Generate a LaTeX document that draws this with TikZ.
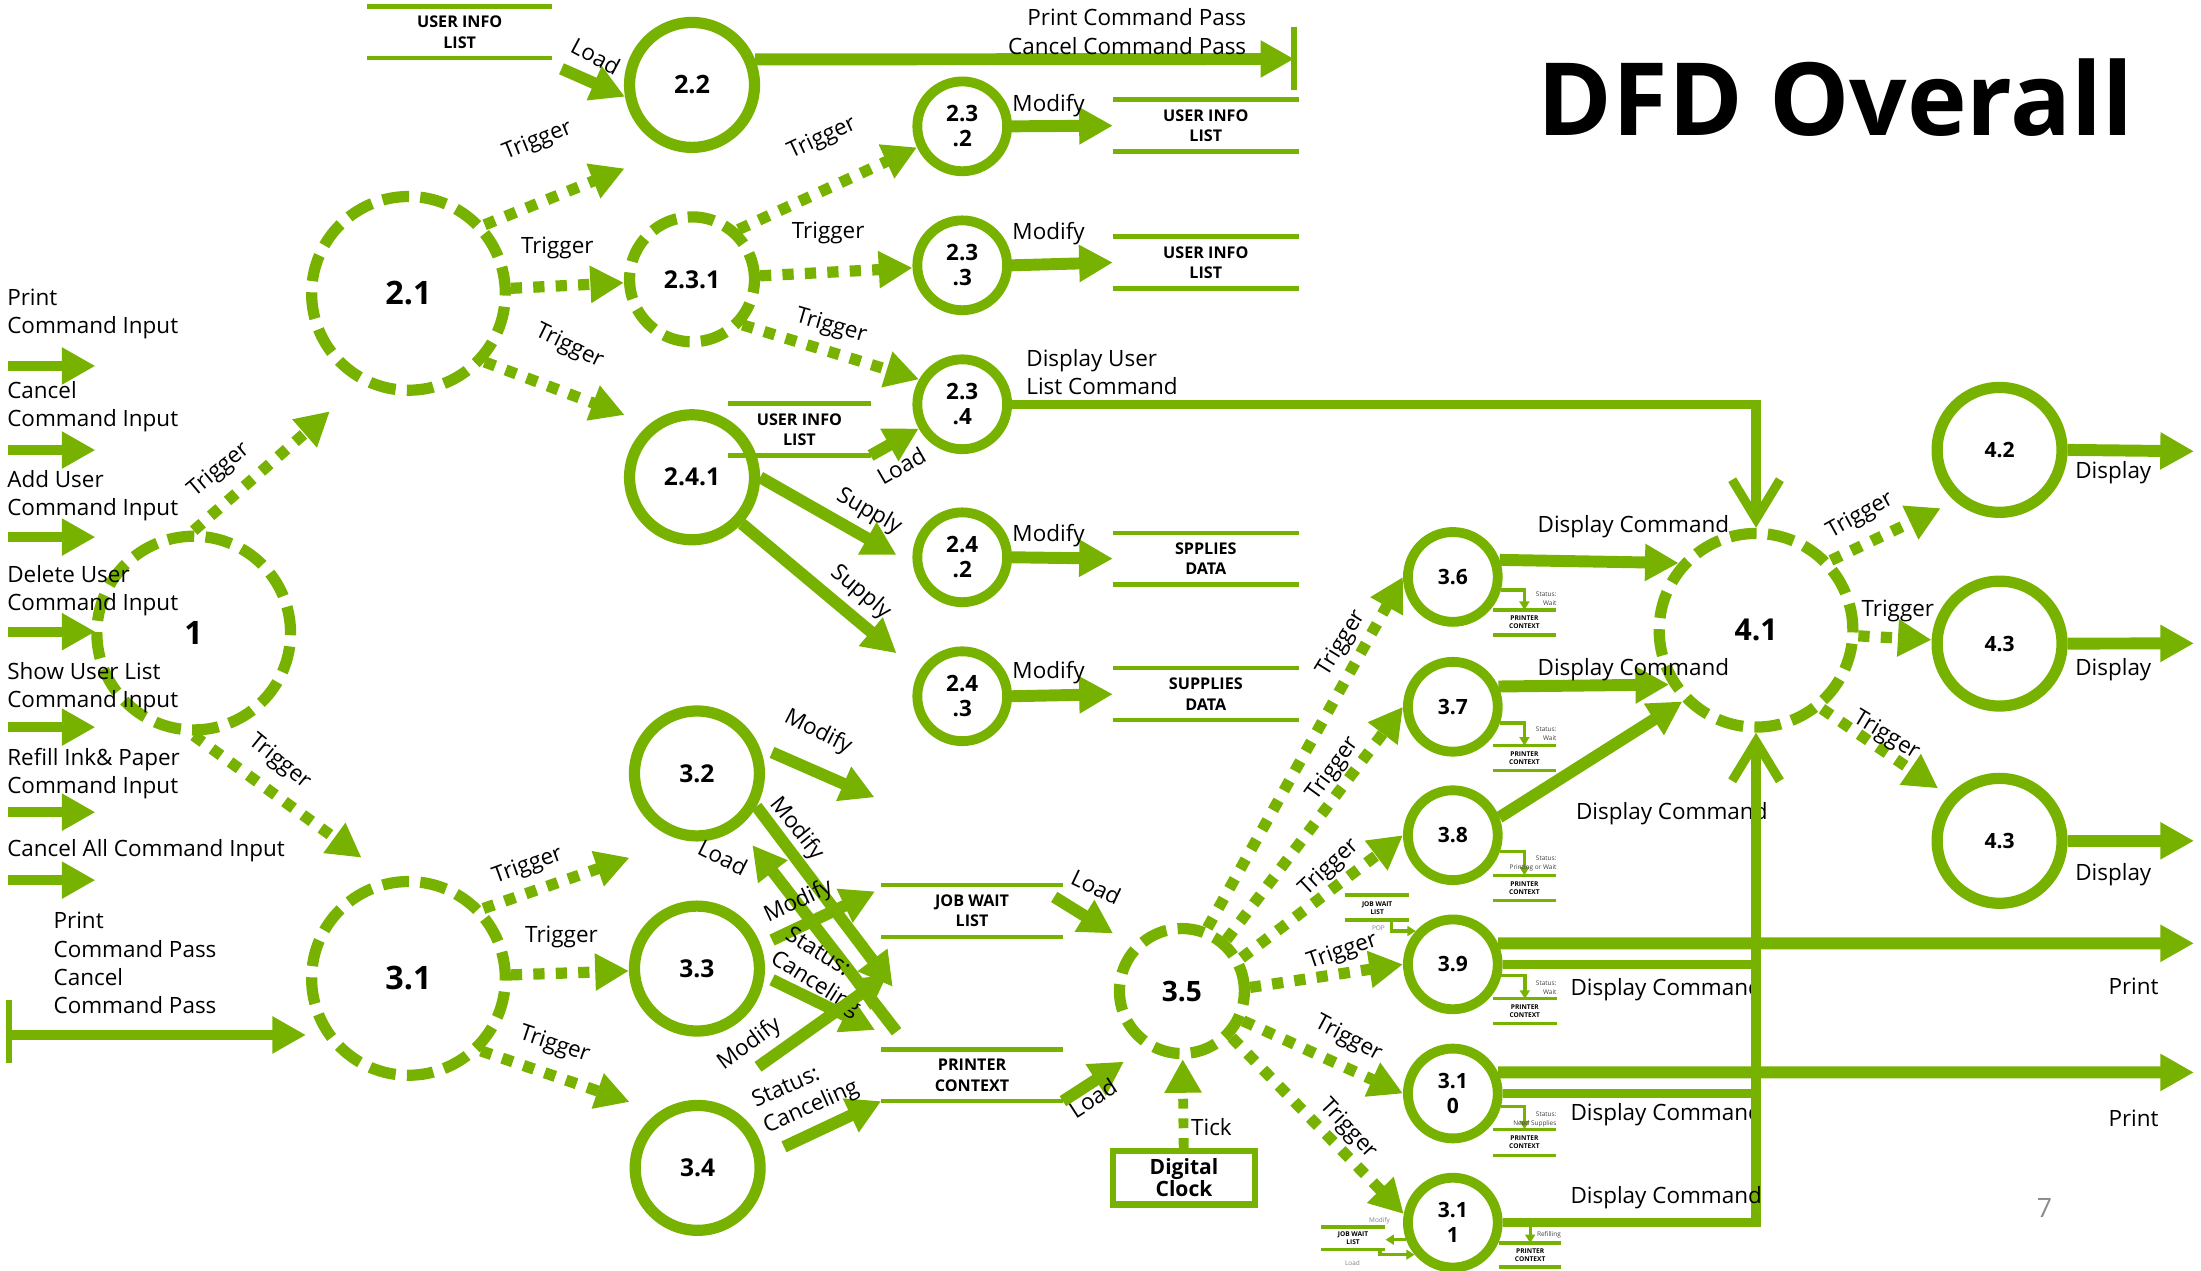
\documentclass[tikz,border=0pt]{standalone}
\usepackage{fontspec}
\setmainfont{Open Sans}
\usetikzlibrary{arrows.meta}
\definecolor{dfdgreen}{RGB}{120,178,0}

\begin{document}
\begin{tikzpicture}
        [x=1pt, y=-1pt,
         proc/.style={circle, draw=dfdgreen, line width=8pt, inner sep=0pt, align=center, text=black},
         bigproc/.style={proc, minimum size=138pt, font=\fontsize{23}{26}\selectfont\bfseries},
         midproc/.style={proc, minimum size=89pt, font=\fontsize{17.5}{20}\selectfont\bfseries},
         smallproc/.style={proc, line width=7pt, minimum size=64pt, font=\fontsize{16}{18}\selectfont\bfseries},
         dashproc/.style={dash pattern=on 19pt off 8pt},
         flow/.style={draw=dfdgreen, line width=8.5pt, -{Triangle[length=24pt,width=25pt]}},
         trig/.style={flow, line width=8pt, dash pattern=on 8pt off 8pt},
         inflow/.style={flow, line width=7pt},
         dispflow/.style={draw=dfdgreen, line width=6.5pt, -{Straight Barb[length=28pt,width=34pt]}},
         displine/.style={draw=dfdgreen, line width=6.5pt},
         bar/.style={draw=dfdgreen, line width=4.5pt},
         store/.style={inner sep=0pt, minimum height=36.5pt, align=center, font=\fontsize{11.5}{14.5}\selectfont\bfseries},
         storeline/.style={draw=dfdgreen, line width=3.2pt},
         lbl/.style={inner sep=0pt, font=\fontsize{16}{20}\selectfont},
         inlbl/.style={lbl, anchor=west, align=left},
         clockbox/.style={draw=dfdgreen, line width=4.5pt, minimum width=101pt, minimum height=38pt, inner sep=0pt, align=center, font=\fontsize{15}{15.5}\selectfont\bfseries},
         ministore/.style={inner sep=0pt, minimum width=44.7pt, minimum height=17.4pt, align=center, font=\fontsize{4.7}{5.7}\selectfont\bfseries},
         miniline/.style={draw=dfdgreen, line width=2.4pt},
         miniarrow/.style={draw=dfdgreen, line width=2.4pt, -{Triangle[length=6pt,width=7pt]}},
         minilbl/.style={inner sep=0pt, align=right, text=black!75, font=\fontsize{4.6}{6.3}\selectfont},
         minigray/.style={minilbl, text=black!50}]
  \useasboundingbox (0,0) rectangle (1568,905);

  % title and page number
  \node[inner sep=0pt, anchor=base, font=\fontsize{72}{78}\selectfont\bfseries] (ttl) at (1307.8,96.2) {DFD Overall};
  \node[inner sep=0pt, text=black!45, font=\fontsize{19}{20}\selectfont] (pg) at (1456.5,860.6) {7};

  % processes
  \node[bigproc, dashproc] (n1) at (138,451) {1};
  \node[bigproc, dashproc] (n21) at (291,209) {2.1};
  \node[bigproc, dashproc] (n31) at (291,697) {3.1};
  \node[midproc, font=\fontsize{18}{20}\selectfont\bfseries] (n22) at (493,60.5) {2.2};
  \node[midproc, dashproc] (n231) at (493,199) {2.3.1};
  \node[midproc] (n241) at (493,340) {2.4.1};
  \node[smallproc] (n232) at (685.5,90) {2.3\\.2};
  \node[smallproc] (n233) at (685.5,189) {2.3\\.3};
  \node[smallproc] (n234) at (685.5,288) {2.3\\.4};
  \node[smallproc] (n242) at (685.5,397) {2.4\\.2};
  \node[smallproc] (n243) at (685.5,496) {2.4\\.3};
  \node[midproc] (n32) at (496.5,551) {3.2};
  \node[midproc] (n33) at (496.5,690) {3.3};
  \node[midproc] (n34) at (497,832) {3.4};
  \node[midproc, dashproc, font=\fontsize{20}{22}\selectfont\bfseries] (n35) at (842,706) {3.5};
  \node[smallproc, font=\fontsize{15}{18}\selectfont\bfseries] (n36) at (1035,411) {3.6};
  \node[smallproc, font=\fontsize{15}{18}\selectfont\bfseries] (n37) at (1035,503.5) {3.7};
  \node[smallproc, font=\fontsize{15}{18}\selectfont\bfseries] (n38) at (1035,595) {3.8};
  \node[smallproc, font=\fontsize{15}{18}\selectfont\bfseries] (n39) at (1035,687) {3.9};
  \node[smallproc, font=\fontsize{15}{18}\selectfont\bfseries] (n310) at (1035,779) {3.1\\0};
  \node[smallproc, font=\fontsize{15}{18}\selectfont\bfseries] (n311) at (1035,871) {3.1\\1};
  \node[bigproc, dashproc, font=\fontsize{21.5}{24}\selectfont\bfseries] (n41) at (1251,449) {4.1};
  \node[midproc, font=\fontsize{15}{18}\selectfont\bfseries] (n42) at (1424.5,320.5) {4.2};
  \node[midproc, font=\fontsize{15}{18}\selectfont\bfseries] (n43) at (1424.5,458.5) {4.3};
  \node[midproc, font=\fontsize{15}{18}\selectfont\bfseries] (n43b) at (1424.5,599) {4.3};

  % data stores
  \node[store, minimum width=131pt] (sui1) at (327.5,23) {USER INFO\\LIST};
  \node[store, minimum width=132pt] (s232) at (859,89.5) {USER INFO\\LIST};
  \node[store, minimum width=132pt] (s233) at (859,187) {USER INFO\\LIST};
  \node[store, minimum width=101pt] (sui4) at (569.5,306) {USER INFO\\LIST};
  \node[store, minimum width=132pt] (s242) at (859,398) {SPPLIES\\DATA};
  \node[store, minimum width=132pt] (s243) at (859,494.5) {SUPPLIES\\DATA};
  \node[store, minimum width=129pt] (sjob) at (692.5,649) {JOB WAIT\\LIST};
  \node[store, minimum width=129pt] (sprn) at (692.5,766) {PRINTER\\CONTEXT};
  \draw[storeline] (sui1.north west) -- (sui1.north east) (sui1.south west) -- (sui1.south east);
  \draw[storeline] (s232.north west) -- (s232.north east) (s232.south west) -- (s232.south east);
  \draw[storeline] (s233.north west) -- (s233.north east) (s233.south west) -- (s233.south east);
  \draw[storeline] (sui4.north west) -- (sui4.north east) (sui4.south west) -- (sui4.south east);
  \draw[storeline] (s242.north west) -- (s242.north east) (s242.south west) -- (s242.south east);
  \draw[storeline] (s243.north west) -- (s243.north east) (s243.south west) -- (s243.south east);
  \draw[storeline] (sjob.north west) -- (sjob.north east) (sjob.south west) -- (sjob.south east);
  \draw[storeline] (sprn.north west) -- (sprn.north east) (sprn.south west) -- (sprn.south east);

  % digital clock
  \node[clockbox] (clk) at (843.5,839) {Digital\\Clock};

  % inputs on the left
  \coordinate (inA) at (6,260.7);
  \coordinate (inB) at (6,320.6);
  \coordinate (inC) at (6,382.6);
  \coordinate (inD) at (6,450);
  \coordinate (inE) at (6,518);
  \coordinate (inF) at (6,578.6);
  \coordinate (inG) at (6,627);
  \draw[inflow] (inA) -- ++(62,0);
  \draw[inflow] (inB) -- ++(62,0);
  \draw[inflow] (inC) -- ++(62,0);
  \draw[inflow] (inD) -- ++(62,0);
  \draw[inflow] (inE) -- ++(62,0);
  \draw[inflow] (inF) -- ++(62,0);
  \draw[inflow] (inG) -- ++(62,0);
  \node[inlbl] (lA) at (5,223.5) {Print\\Command Input};
  \node[inlbl] (lB) at (5,290) {Cancel\\Command Input};
  \node[inlbl] (lC) at (5,353) {Add User\\Command Input};
  \node[inlbl] (lD) at (5,421) {Delete User\\Command Input};
  \node[inlbl] (lE) at (5,490) {Show User List\\Command Input};
  \node[inlbl] (lF) at (5,551) {Refill Ink\& Paper\\Command Input};
  \node[inlbl] (lG) at (5,606) {Cancel All Command Input};

  % pass in to 3.1
  \coordinate (pcp) at (6.4,737.3);
  \coordinate (pcpt) at (218,737.3);
  \draw[flow, line width=7pt] (pcp) -- (pcpt);
  \draw[bar] ([yshift=25pt]pcp) -- ([yshift=-20pt]pcp);
  \node[inlbl] (lpcp) at (38,686) {Print\\Command Pass\\Cancel\\Command Pass};

  % 2.2 out and load
  \coordinate (pcpass) at (922,42);
  \draw[flow] (n22.22) -- (pcpass);
  \draw[bar] ([yshift=23pt]pcpass) -- ([yshift=-22pt]pcpass);
  \node[lbl, anchor=east] (lpp) at (888,12.5) {Print Command Pass};
  \node[lbl, anchor=east] (lcp) at (888,32.6) {Cancel Command Pass};
  \coordinate (ld22) at (400,49);
  \draw[flow] (ld22) -- (n22.190);
  \node[lbl, rotate=-28] (lld22) at (424.5,40) {Load};

  % triggers from 1
  \coordinate (t12) at (235,293);
  \draw[trig] (n1.north) -- (t12);
  \node[lbl, rotate=40] (lt12) at (156,335) {Trigger};
  \coordinate (t13) at (257.6,611);
  \draw[trig] (n1.south) -- (t13);
  \node[lbl, rotate=-39] (lt13) at (199,543) {Trigger};

  % triggers from 2.1
  \coordinate (t21a) at (445,120);
  \draw[trig] (n21.42) -- (t21a);
  \node[lbl, rotate=22] (lt21a) at (383,100.5) {Trigger};
  \draw[trig] (n21) -- (n231);
  \node[lbl] (lt21b) at (397,176.7) {Trigger};
  \coordinate (t21c) at (445,295.6);
  \draw[trig] (n21.-42) -- (t21c);
  \node[lbl, rotate=-26] (lt21c) at (405.5,247) {Trigger};

  % triggers from 2.3.1
  \draw[trig] (n231.47) -- (n232.205);
  \node[lbl, rotate=25] (lt232) at (585.7,98.7) {Trigger};
  \draw[trig] (n231) -- (n233);
  \node[lbl] (lt233) at (590,166) {Trigger};
  \draw[trig] (n231.-42) -- (n234.150);
  \node[lbl, rotate=-16] (lt234) at (592,232.7) {Trigger};

  % 2.3.x and 2.4.x flows
  \draw[flow] (n232.east) -- (s232.west);
  \node[lbl] (lm232) at (747,75.4) {Modify};
  \draw[flow] (n233.east) -- (s233.west);
  \node[lbl] (lm233) at (747,166.7) {Modify};
  \draw[flow] (n242.east) -- (s242.west);
  \node[lbl] (lm242) at (747,381.7) {Modify};
  \draw[flow] (n243.east) -- (s243.west);
  \node[lbl] (lm243) at (747,478.9) {Modify};
  \draw[dispflow] (n234.east) -| (n41.north);
  \node[inlbl] (ldul) at (731,265) {Display User\\List Command};
  \draw[flow] (sui4.south east) -- (n234);
  \node[lbl, rotate=30] (lld234) at (642,331.8) {Load};
  \coordinate (sup1) at (638.7,395.4);
  \draw[flow] (n241.east) -- (sup1);
  \node[lbl, rotate=-30] (lsup1) at (619,364.5) {Supply};
  \coordinate (sup2) at (638.7,465.4);
  \draw[flow] (n241.-43) -- (sup2);
  \node[lbl, rotate=-40] (lsup2) at (613,422) {Supply};

  % triggers from 3.1
  \coordinate (t31a) at (448.5,611);
  \draw[trig] (n31.43) -- (t31a);
  \node[lbl, rotate=20] (lt31a) at (376,617) {Trigger};
  \draw[trig] (n31) -- (n33);
  \node[lbl] (lt31b) at (400,667.5) {Trigger};
  \coordinate (t31c) at (448.5,785);
  \draw[trig] (n31.-45) -- (t31c);
  \node[lbl, rotate=-18.5] (lt31c) at (395,744.5) {Trigger};

  % 3.2, 3.3, 3.4 flows
  \coordinate (m32a) at (550,536);
  \coordinate (m32b) at (623,568);
  \draw[flow] (m32a) -- (m32b);
  \node[lbl, rotate=-27] (lm32a) at (582.7,521.8) {Modify};
  \coordinate (m32t) at (636,703);
  \draw[flow] (n32.-29) -- (m32t);
  \node[lbl, rotate=-51] (lm32b) at (567.6,590.6) {Modify};
  \coordinate (ld32) at (638.7,735);
  \draw[flow, shorten >=16pt] (ld32) -- (n32);
  \node[lbl, rotate=-26.5] (lld32) at (515,611) {Load};
  \coordinate (m33a) at (550,669.7);
  \coordinate (m33b) at (623.4,635);
  \draw[flow] (m33a) -- (m33b);
  \node[lbl, rotate=25] (lm33a) at (569,642.4) {Modify};
  \coordinate (c33a) at (550,698);
  \coordinate (c33b) at (623.4,733.8);
  \draw[flow] (c33a) -- (c33b);
  \node[lbl, rotate=-32, align=left] (lc33) at (586,693) {Status:\\Canceling};
  \coordinate (m33c) at (540,760);
  \coordinate (m33d) at (632,694.6);
  \draw[flow] (m33c) -- (m33d);
  \node[lbl, rotate=36] (lm33c) at (534,743.8) {Modify};
  \coordinate (c34) at (558.5,817);
  \draw[flow] (c34) -- (sprn.south west);
  \node[lbl, rotate=24, align=left] (lc34) at (574,780) {Status:\\Canceling};

  % loads into 3.5 and the clock
  \coordinate (ldj) at (751,639);
  \coordinate (ldjt) at (793,665);
  \draw[flow] (ldj) -- (ldjt);
  \node[lbl, rotate=-25.5] (lldj) at (781,631.7) {Load};
  \coordinate (ldpt) at (800.7,756.3);
  \draw[flow] (sprn.south east) -- (ldpt);
  \node[lbl, rotate=33] (lldp) at (778.5,782.3) {Load};
  \draw[trig, line width=7pt, dash pattern=on 7pt off 7pt] (clk) -- (n35);
  \node[lbl, anchor=west] (ltick) at (848.4,802.6) {Tick};

  % triggers from 3.5
  \draw[trig] (n35.68) -- (n36.west);
  \node[lbl, rotate=58] (lt36) at (955.8,458.3) {Trigger};
  \draw[trig] (n35.49) -- (n37.west);
  \node[lbl, rotate=54] (lt37) at (950,548) {Trigger};
  \draw[trig] (n35.29) -- (n38.west);
  \node[lbl, rotate=43] (lt38) at (947,618) {Trigger};
  \draw[trig] (n35.3) -- (n39.west);
  \node[lbl, rotate=19] (lt39) at (956.3,678) {Trigger};
  \draw[trig] (n35.-26) -- (n310.west);
  \node[lbl, rotate=-28] (lt310) at (960.4,740.2) {Trigger};
  \draw[trig] (n35.-43) -- (n311.170);
  \node[lbl, rotate=-47] (lt311) at (960.6,804.3) {Trigger};

  % small stores beside 3.6 - 3.11
  \node[ministore] (pc36) at (1086,443.4) {PRINTER\\CONTEXT};
  \draw[miniline] (pc36.north west) -- (pc36.north east) (pc36.south west) -- (pc36.south east);
  \draw[miniarrow] (n36.-15) -| (pc36.north);
  \node[minilbl, anchor=east] (st36) at (1109,426.8) {Status:\\Wait};
  \node[ministore] (pc37) at (1086,540) {PRINTER\\CONTEXT};
  \draw[miniline] (pc37.north west) -- (pc37.north east) (pc37.south west) -- (pc37.south east);
  \draw[miniarrow] (n37.-19) -| (pc37.north);
  \node[minilbl, anchor=east] (st37) at (1109,522.9) {Status:\\Wait};
  \node[ministore] (pc38) at (1086,632.4) {PRINTER\\CONTEXT};
  \draw[miniline] (pc38.north west) -- (pc38.north east) (pc38.south west) -- (pc38.south east);
  \draw[miniarrow] (n38.-19.5) -| (pc38.north);
  \node[minilbl, anchor=east] (st38) at (1109,615.3) {Status:\\Printing or Wait};
  \node[ministore] (pc39) at (1086.3,720.4) {PRINTER\\CONTEXT};
  \draw[miniline] (pc39.north west) -- (pc39.north east) (pc39.south west) -- (pc39.south east);
  \draw[miniarrow] (n39.-13.5) -| (pc39.north);
  \node[minilbl, anchor=east] (st39) at (1109,703.6) {Status:\\Wait};
  \node[ministore, minimum width=45.6pt] (jw39) at (981.1,646.6) {JOB WAIT\\LIST};
  \draw[miniline] (jw39.north west) -- (jw39.north east) (jw39.south west) -- (jw39.south east);
  \draw[miniarrow] ([xshift=10.4pt]jw39.south) |- (n39.138);
  \node[minigray] (pop39) at (982,660.9) {POP};
  \node[ministore, minimum height=18.3pt] (pc310) at (1086,813.8) {PRINTER\\CONTEXT};
  \draw[miniline] (pc310.north west) -- (pc310.north east) (pc310.south west) -- (pc310.south east);
  \draw[miniarrow] (n310.-15.5) -| (pc310.north);
  \node[minilbl, anchor=east] (st310) at (1109,797.6) {Status:\\Need Supplies};
  \node[minilbl, anchor=east] (st311) at (1112.2,876.5) {Status:\\Refilling};
  \node[ministore, minimum width=44.2pt, minimum height=16.6pt] (pc311) at (1090.1,894) {PRINTER\\CONTEXT};
  \draw[miniline] (pc311.north west) -- (pc311.north east) (pc311.south west) -- (pc311.south east);
  \node[ministore, minimum width=45.8pt, minimum height=15.7pt] (jw311) at (963.9,882.2) {JOB WAIT\\LIST};
  \draw[miniline] (jw311.north west) -- (jw311.north east) (jw311.south west) -- (jw311.south east);
  \node[minigray, anchor=east] (mod311) at (990.4,869.6) {Modify};
  \draw[miniarrow] (n311.200) -- (jw311.east |- n311.200);
  \node[minigray] (lo311) at (963.5,899.5) {Load};
  \draw[miniarrow] ([xshift=19.3pt]jw311.south) |- (n311.220);

  % display commands into 4.1
  \draw[flow] (n36.20) -- (n41.139);
  \node[lbl] (ldc36) at (1163.6,375.2) {Display Command};
  \draw[flow] (n37.24) -- (n41.212);
  \node[lbl] (ldc37) at (1163.6,477.3) {Display Command};
  \draw[flow] (n38.21) -- (n41.224);
  \node[lbl] (ldc38) at (1191,580) {Display Command};
  \coordinate (pr39) at (1563,672);
  \draw[flow] (n39.25) -- (pr39);
  \draw[displine] (n39.east) -- (n39.east -| n41.south);
  \node[lbl, anchor=east] (lpr39) at (1538,703) {Print};
  \node[lbl] (ldc39) at (1187,704.7) {Display Command};
  \coordinate (pr310) at (1563,764);
  \draw[flow] (n310.25) -- (pr310);
  \draw[displine] (n310.east) -- (n310.east -| n41.south);
  \node[lbl, anchor=east] (lpr310) at (1538,797) {Print};
  \node[lbl] (ldc310) at (1187,793.8) {Display Command};
  \draw[dispflow] (n311.east) -| (n41.south);
  \draw[miniarrow] (pc311.north |- n311.east) -- (pc311.north);
  \node[lbl] (ldc311) at (1187,853) {Display Command};

  % triggers from 4.1 and displays
  \coordinate (t42) at (1382.6,362);
  \draw[trig] (n41.43) -- (t42);
  \node[lbl, rotate=29] (lt42) at (1325.3,367.5) {Trigger};
  \draw[trig] (n41) -- (n43);
  \node[lbl] (lt43) at (1352,435) {Trigger};
  \coordinate (t43b) at (1380.7,561.6);
  \draw[trig] (n41.-50) -- (t43b);
  \node[lbl, rotate=-31] (lt43b) at (1343.7,524.2) {Trigger};
  \coordinate (d42) at (1563,321.5);
  \draw[flow] (n42.east) -- (d42);
  \node[lbl] (ldi42) at (1505.5,337) {Display};
  \coordinate (d43) at (1563,458.3);
  \draw[flow] (n43.east) -- (d43);
  \node[lbl] (ldi43) at (1505.5,477.3) {Display};
  \coordinate (d43b) at (1563,599);
  \draw[flow] (n43b.east) -- (d43b);
  \node[lbl] (ldi43b) at (1505.5,622.8) {Display};
\end{tikzpicture}
\end{document}
